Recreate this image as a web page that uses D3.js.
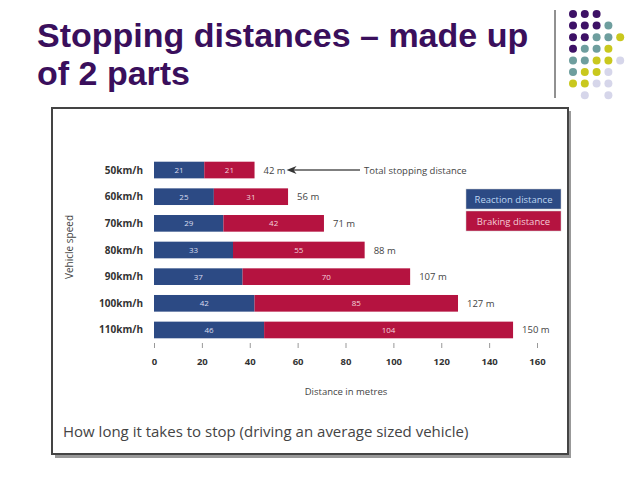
<!DOCTYPE html>
<html>
<head>
<meta charset="utf-8">
<script src="https://cdn.jsdelivr.net/npm/d3@7"></script>
<style>
  body { margin: 0; background: #fff; }
  svg { display: block; }
</style>
</head>
<body>
<svg id="chart" width="638" height="479"></svg>
<script>
// chart data
const speeds = ["50km/h", "60km/h", "70km/h", "80km/h", "90km/h", "100km/h", "110km/h"];
const reaction = [21, 25, 29, 33, 37, 42, 46];
const braking = [21, 31, 42, 55, 70, 85, 104];
const totals = [42, 56, 71, 88, 107, 127, 150];
const xTicks = [0, 20, 40, 60, 80, 100, 120, 140, 160];

// slide decoration: dot grid, p=purple t=teal y=yellow l=lavender
const dotRows = ["ppp", "pppt", "pptty", "ptty", "ttyyl", "tyyl", "yyll", " l l"];
const dotColors = { p: "#3d1166", t: "#6e9e9e", y: "#c9c81e", l: "#d6d6ea" };

const svg = d3.select("#chart");

// title
const title = svg.append("text")
  .attr("font-family", "Liberation Sans, Arial, sans-serif")
  .attr("font-weight", "bold")
  .attr("font-size", 34)
  .attr("fill", "#3a0f5c");
title.append("tspan").attr("x", 37).attr("y", 47).text("Stopping distances \u2013 made up");
title.append("tspan").attr("x", 37).attr("y", 85).text("of 2 parts");

// divider line
svg.append("line")
  .attr("x1", 555).attr("x2", 555)
  .attr("y1", 10).attr("y2", 98)
  .attr("stroke", "#222").attr("stroke-width", 1);

// dot grid
dotRows.forEach((row, r) => {
  row.split("").forEach((c, i) => {
    if (c === " ") return;
    svg.append("circle")
      .attr("cx", 573 + i * 11.8)
      .attr("cy", 14 + r * 11.6)
      .attr("r", 4)
      .attr("fill", dotColors[c]);
  });
});

// chart frame with shadow
svg.append("rect")
  .attr("x", 55).attr("y", 111)
  .attr("width", 516).attr("height", 347)
  .attr("fill", "#555").attr("opacity", 0.6);
svg.append("rect")
  .attr("x", 52).attr("y", 108)
  .attr("width", 516).attr("height", 346)
  .attr("fill", "#fff")
  .attr("stroke", "#444").attr("stroke-width", 2);

const font = "Open Sans, Liberation Sans, sans-serif";

// scales
const x_scale = d3.scaleLinear()
  .domain([0, 160])
  .range([154, 537]);

const y_scale = d3.scaleBand()
  .domain(speeds)
  .range([156.7, 343.3])
  .paddingInner(0.375)
  .paddingOuter(0.1875);

const rows = speeds.map((s, i) => ({ speed: s, r: reaction[i], b: braking[i], t: totals[i] }));

const g = svg.append("g");

// reaction bars
g.selectAll(".bar_r")
  .data(rows)
  .join("rect")
  .attr("class", "bar_r")
  .attr("x", x_scale(0))
  .attr("y", (d) => y_scale(d.speed))
  .attr("width", (d) => x_scale(d.r) - x_scale(0))
  .attr("height", y_scale.bandwidth())
  .attr("fill", "#2c4a84");

// braking bars
g.selectAll(".bar_b")
  .data(rows)
  .join("rect")
  .attr("class", "bar_b")
  .attr("x", (d) => x_scale(d.r))
  .attr("y", (d) => y_scale(d.speed))
  .attr("width", (d) => x_scale(d.r + d.b) - x_scale(d.r))
  .attr("height", y_scale.bandwidth())
  .attr("fill", "#b51340");

// values inside segments
g.selectAll(".lab_r")
  .data(rows)
  .join("text")
  .attr("class", "lab_r")
  .attr("x", (d) => x_scale(d.r / 2))
  .attr("y", (d) => y_scale(d.speed) + y_scale.bandwidth() / 2 + 3)
  .attr("text-anchor", "middle")
  .attr("font-family", font)
  .attr("font-size", 8)
  .attr("fill", "#d9dcef")
  .text((d) => d.r);

g.selectAll(".lab_b")
  .data(rows)
  .join("text")
  .attr("class", "lab_b")
  .attr("x", (d) => x_scale(d.r + d.b / 2))
  .attr("y", (d) => y_scale(d.speed) + y_scale.bandwidth() / 2 + 3)
  .attr("text-anchor", "middle")
  .attr("font-family", font)
  .attr("font-size", 8)
  .attr("fill", "#f2d3dc")
  .text((d) => d.b);

// totals
g.selectAll(".lab_t")
  .data(rows)
  .join("text")
  .attr("class", "lab_t")
  .attr("x", (d) => x_scale(d.t) + 9)
  .attr("y", (d) => y_scale(d.speed) + y_scale.bandwidth() / 2 + 3.5)
  .attr("font-family", font)
  .attr("font-size", 9.5)
  .attr("fill", "#444")
  .text((d) => d.t + " m");

// speed labels
g.selectAll(".lab_s")
  .data(rows)
  .join("text")
  .attr("class", "lab_s")
  .attr("x", 143)
  .attr("y", (d) => y_scale(d.speed) + y_scale.bandwidth() / 2 + 3.5)
  .attr("text-anchor", "end")
  .attr("font-family", font)
  .attr("font-weight", "bold")
  .attr("font-size", 10)
  .attr("fill", "#333")
  .text((d) => d.speed);

// arrow to total stopping distance
const ay = y_scale(speeds[0]) + y_scale.bandwidth() / 2;
const ax = x_scale(totals[0]) + 37;
g.append("line")
  .attr("x1", ax).attr("x2", 360)
  .attr("y1", ay).attr("y2", ay)
  .attr("stroke", "#555").attr("stroke-width", 1.5);
g.append("path")
  .attr("d", `M${ax - 5},${ay} L${ax + 5},${ay - 4} L${ax + 2},${ay} L${ax + 5},${ay + 4} Z`)
  .attr("fill", "#333");
g.append("text")
  .attr("x", 364).attr("y", ay + 3.5)
  .attr("font-family", font)
  .attr("font-size", 9.5)
  .attr("fill", "#444")
  .text("Total stopping distance");

// x axis
const x_axis = g.append("g")
  .attr("transform", "translate(0,343)")
  .call(d3.axisBottom(x_scale).tickValues(xTicks).tickSize(5).tickPadding(10));
x_axis.select(".domain").remove();
x_axis.selectAll(".tick line").attr("stroke", "#999");
x_axis.selectAll(".tick text")
  .attr("font-family", font)
  .attr("font-weight", "bold")
  .attr("font-size", 9.5)
  .attr("fill", "#333");

// axis titles
g.append("text")
  .attr("x", 346).attr("y", 395)
  .attr("text-anchor", "middle")
  .attr("font-family", font)
  .attr("font-size", 9.5)
  .attr("fill", "#444")
  .text("Distance in metres");

g.append("text")
  .attr("transform", "translate(73,247) rotate(-90)")
  .attr("text-anchor", "middle")
  .attr("font-family", font)
  .attr("font-size", 10)
  .attr("fill", "#444")
  .text("Vehicle speed");

// legend
const legend = [
  { label: "Reaction distance", fill: "#2c4a84", color: "#bcd6f2" },
  { label: "Braking distance", fill: "#b51340", color: "#f4cbd6" }
];
legend.forEach((d, i) => {
  g.append("rect")
    .attr("x", 466).attr("y", 189 + i * 22)
    .attr("width", 95).attr("height", 20)
    .attr("fill", d.fill)
    .attr("stroke", "#ccc").attr("stroke-width", 0.5);
  g.append("text")
    .attr("x", 513.5).attr("y", 202.5 + i * 22)
    .attr("text-anchor", "middle")
    .attr("font-family", font)
    .attr("font-size", 9.5)
    .attr("fill", d.color)
    .text(d.label);
});

// caption
g.append("text")
  .attr("x", 63).attr("y", 437)
  .attr("font-family", font)
  .attr("font-size", 15)
  .attr("fill", "#444")
  .text("How long it takes to stop (driving an average sized vehicle)");
</script>
</body>
</html>
